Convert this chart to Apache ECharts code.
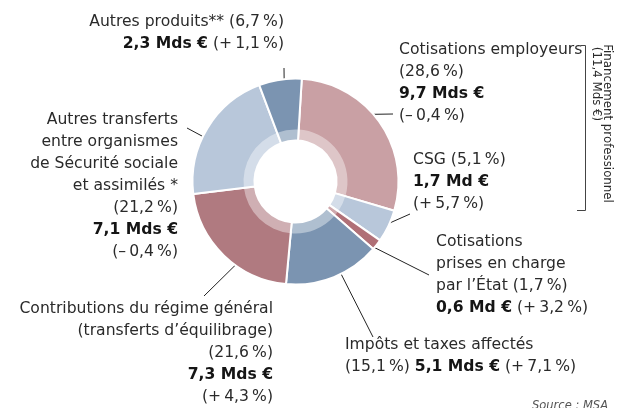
<!DOCTYPE html>
<html><head><meta charset="utf-8">
<script src="https://cdn.jsdelivr.net/npm/echarts@6/dist/echarts.min.js"></script>
<style>html,body{margin:0;padding:0;background:#fff}#c{width:630px;height:408px}</style>
</head><body><div id="c"></div>
<script>
// ---- data ----
const categories = ['Cotisations employeurs', 'CSG', 'Cotisations prises en charge par l’État', 'Impôts et taxes affectés', 'Contributions du régime général', 'Autres transferts entre organismes de Sécurité sociale et assimilés', 'Autres produits'];
const shares = [28.6, 5.1, 1.7, 15.1, 21.6, 21.2, 6.7];          // % of total
const amounts = [9.7, 1.7, 0.6, 5.1, 7.3, 7.1, 2.3];             // Md €
const changes = [-0.4, 5.7, 3.2, 7.1, 4.3, -0.4, 1.1];           // % change
const groupLabel = ['Financement professionnel', '(11,4 Mds €)'];
const sourceText = 'Source : MSA';

// ---- style / layout ----
const colors = ['#c9a0a4', '#b8c7da', '#b07077', '#7b94b1', '#b07a80', '#b8c7da', '#7b94b1'];
const FONT = '"DejaVu Sans", "Liberation Sans", Arial, sans-serif';
const FS = 15.6;
const LH = 22;
const TXT = '#2a2a2a';
const labelPos = [
  { x: 399, y: 39, align: 'left' },
  { x: 413, y: 149, align: 'left' },
  { x: 436, y: 231, align: 'left' },
  { x: 345, y: 334, align: 'left' },
  { x: 273, y: 298, align: 'right' },
  { x: 178, y: 109, align: 'right' },
  { x: 284, y: 11, align: 'right' }
];
const linePos = [
  { f: 0.44, ex: -6, ey: 75 },
  { f: 0.43, ex: -3, ey: 65 },
  { f: 0.85, ex: -7, ey: 44 },
  { f: 0.42, ex: 28, ey: 3 },
  { f: 0.39, ex: -69, ey: -2 },
  { f: 0.43, ex: 9, ey: 19 },
  { f: 0.59, ex: 0, ey: 57 }
];

const TS = '\u2009'; // thin space
const num = v => v.toFixed(1).replace('.', ',');
function labelText(i) {
  const p = '(' + num(shares[i]) + TS + '%)';
  const a = '{b|' + num(amounts[i]) + (amounts[i] < 2 ? ' Md €' : ' Mds €') + '}';
  const c = '(' + (changes[i] < 0 ? '–' : '+') + TS + num(Math.abs(changes[i])) + TS + '%)';
  switch (i) {
    case 0: return ['Cotisations employeurs', p, a, c].join('\n');
    case 1: return ['CSG ' + p, a, c].join('\n');
    case 2: return ['Cotisations', 'prises en charge', 'par l’État ' + p, a + ' ' + c].join('\n');
    case 3: return ['Impôts et taxes affectés', p + ' ' + a + ' ' + c].join('\n');
    case 4: return ['Contributions du régime général', '(transferts d’équilibrage)', p, a, c].join('\n');
    case 5: return ['Autres transferts', 'entre organismes', 'de Sécurité sociale', 'et assimilés *', p, a, c].join('\n');
    case 6: return ['Autres produits** ' + p, a + ' ' + c].join('\n');
  }
}

const chart = echarts.init(document.getElementById('c'), null, { renderer: 'canvas' });

function arcPoint(i, f) {
  const lay = chart.getModel().getSeriesByIndex(0).getData().getItemLayout(i);
  const a = lay.startAngle + f * (lay.endAngle - lay.startAngle);
  const r = lay.r - 1;
  return [lay.cx + r * Math.cos(a), lay.cy + r * Math.sin(a)];
}

const pieData = categories.map((name, i) => ({
  name: name,
  value: shares[i],
  itemStyle: { color: colors[i] },
  label: {
    formatter: labelText(i),
    align: labelPos[i].align,
    rich: { b: { fontWeight: 'bold', fontSize: FS, fontFamily: FONT, color: '#151515', lineHeight: LH, align: labelPos[i].align } }
  }
}));

const option = {
  animation: false,
  series: [
    {
      type: 'pie',
      center: [295.5, 181.5],
      radius: [41, 103],
      startAngle: 86.5,
      clockwise: true,
      avoidLabelOverlap: false,
      emphasis: { disabled: true },
      itemStyle: { borderColor: '#fff', borderWidth: 2 },
      label: {
        show: true,
        position: 'outside',
        width: 320,
        overflow: 'none',
        fontFamily: FONT,
        fontSize: FS,
        lineHeight: LH,
        color: TXT
      },
      labelLine: { show: true, lineStyle: { color: '#222', width: 1 } },
      labelLayout: function (params) {
        const i = params.dataIndex;
        const p = labelPos[i], l = linePos[i];
        const s = arcPoint(i, l.f);
        return {
          x: p.x, y: p.y, align: p.align, verticalAlign: 'top',
          labelLinePoints: [s, [p.x + l.ex, p.y + l.ey]]
        };
      },
      data: pieData
    },
    {
      type: 'pie',
      center: [295.5, 181.5],
      radius: [41, 52],
      startAngle: 86.5,
      clockwise: true,
      silent: true,
      emphasis: { disabled: true },
      label: { show: false },
      labelLine: { show: false },
      itemStyle: { color: 'rgba(255,255,255,0.4)' },
      data: shares.map((v, i) => ({ name: categories[i], value: v }))
    }
  ],
  graphic: [
    {
      type: 'polyline',
      shape: { points: [[580.5, 45.5], [585.5, 45.5], [585.5, 210.5], [577, 210.5]] },
      style: { stroke: '#444', lineWidth: 1, fill: null }
    },
    {
      type: 'text', x: 607.5, y: 123.5, rotation: -Math.PI / 2,
      style: { text: groupLabel[0], align: 'center', verticalAlign: 'middle', font: '11.8px ' + FONT, fill: TXT }
    },
    {
      type: 'text', x: 595.7, y: 84, rotation: -Math.PI / 2,
      style: { text: groupLabel[1], align: 'center', verticalAlign: 'middle', font: '11.8px ' + FONT, fill: TXT }
    },
    {
      type: 'text', x: 532, y: 400.5,
      style: { text: sourceText, font: 'italic 11.5px ' + FONT, fill: '#555' }
    }
  ]
};
chart.setOption(option);
</script>
</body></html>
